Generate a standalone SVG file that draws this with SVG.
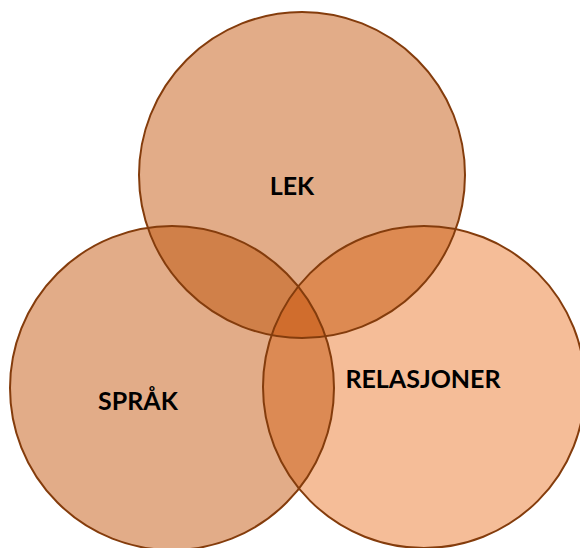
<svg xmlns="http://www.w3.org/2000/svg" width="580" height="548" viewBox="0 0 580 548">
<style>
.lbl{font-family:Lato,"Open Sans","Liberation Sans",sans-serif;font-weight:bold;font-size:25px;fill:#000}
.edge{fill:none;stroke:#843C0C;stroke-width:2}
</style>
<defs>
<clipPath id="cT"><circle cx="302" cy="175" r="163"/></clipPath>
<clipPath id="cL"><circle cx="172" cy="388" r="162"/></clipPath>
<clipPath id="cR"><circle cx="424" cy="387" r="161"/></clipPath>
</defs>
<rect width="580" height="548" fill="#fff"/>
<g id="fills">
<circle cx="302" cy="175" r="163" fill="#E2AC88"/>
<circle cx="172" cy="388" r="162" fill="#E2AC88"/>
<circle cx="424" cy="387" r="161" fill="#F5BD98"/>
<g clip-path="url(#cT)"><circle cx="172" cy="388" r="162" fill="#D08049"/></g>
<g clip-path="url(#cT)"><circle cx="424" cy="387" r="161" fill="#DD8A52"/></g>
<g clip-path="url(#cL)"><circle cx="424" cy="387" r="161" fill="#DC8A54"/></g>
<g clip-path="url(#cT)"><g clip-path="url(#cL)"><circle cx="424" cy="387" r="161" fill="#D06D2D"/></g></g>
</g>
<g id="lek">
<circle class="edge" cx="302" cy="175" r="163"/>
<text class="lbl" x="292" y="195" text-anchor="middle">LEK</text>
</g>
<g id="sprak">
<circle class="edge" cx="172" cy="388" r="162"/>
<text class="lbl" x="138" y="410" text-anchor="middle">SPRÅK</text>
</g>
<g id="relasjoner">
<circle class="edge" cx="424" cy="387" r="161"/>
<text class="lbl" x="423" y="388" text-anchor="middle">RELASJONER</text>
</g>
<g id="connectors"/>
</svg>
